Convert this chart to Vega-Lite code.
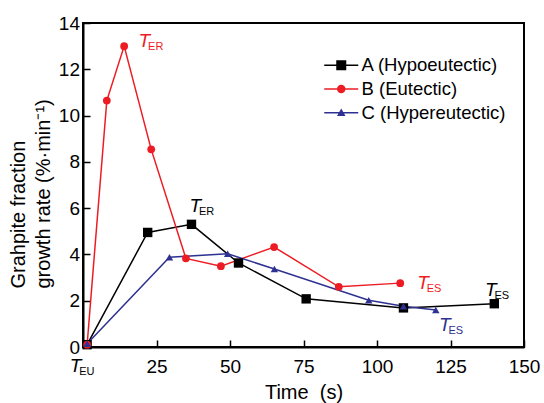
{
  "$schema": "https://vega.github.io/schema/vega-lite/v6.json",
  "width": 441,
  "height": 324,
  "autosize": {"type": "none"},
  "padding": {"left": 83, "top": 23, "right": 20, "bottom": 56},
  "background": "white",
  "config": {
    "font": "Liberation Sans",
    "view": {"stroke": "black", "strokeWidth": 2},
    "axis": {"grid": false, "domainColor": "black", "domainWidth": 2, "tickColor": "black", "tickWidth": 1.5, "labelColor": "black", "titleColor": "black", "labelFont": "Liberation Sans", "titleFont": "Liberation Sans", "titleFontWeight": "normal"},
    "legend": {"title": null, "orient": "none", "legendX": 249, "legendY": 33, "padding": 0, "labelFontSize": 18.5, "labelColor": "black", "symbolSize": 100, "labelOffset": 11, "rowPadding": 4.7, "symbolOpacity": 1, "symbolStrokeWidth": 0}
  },
  "datasets": {
    "pts": [
      {"series": "A (Hypoeutectic)", "x": 1.4, "y": 0.1},
      {"series": "A (Hypoeutectic)", "x": 22.0, "y": 4.95},
      {"series": "A (Hypoeutectic)", "x": 36.9, "y": 5.3},
      {"series": "A (Hypoeutectic)", "x": 52.9, "y": 3.63},
      {"series": "A (Hypoeutectic)", "x": 75.9, "y": 2.08},
      {"series": "A (Hypoeutectic)", "x": 109.0, "y": 1.69},
      {"series": "A (Hypoeutectic)", "x": 139.9, "y": 1.87},
      {"series": "B (Eutectic)", "x": 1.4, "y": 0.1},
      {"series": "B (Eutectic)", "x": 8.1, "y": 10.65},
      {"series": "B (Eutectic)", "x": 14.0, "y": 13.0},
      {"series": "B (Eutectic)", "x": 23.2, "y": 8.54},
      {"series": "B (Eutectic)", "x": 35.0, "y": 3.83},
      {"series": "B (Eutectic)", "x": 46.9, "y": 3.49},
      {"series": "B (Eutectic)", "x": 65.0, "y": 4.32},
      {"series": "B (Eutectic)", "x": 87.0, "y": 2.6},
      {"series": "B (Eutectic)", "x": 107.9, "y": 2.76},
      {"series": "C (Hypereutectic)", "x": 1.4, "y": 0.14},
      {"series": "C (Hypereutectic)", "x": 29.4, "y": 3.88},
      {"series": "C (Hypereutectic)", "x": 49.2, "y": 4.03},
      {"series": "C (Hypereutectic)", "x": 65.1, "y": 3.37},
      {"series": "C (Hypereutectic)", "x": 97.2, "y": 2.02},
      {"series": "C (Hypereutectic)", "x": 109.0, "y": 1.76},
      {"series": "C (Hypereutectic)", "x": 120.0, "y": 1.6}
    ],
    "ann": [
      {"series": "B (Eutectic)", "x": 18.9, "y": 12.97, "sub": "ER"},
      {"series": "A (Hypoeutectic)", "x": 36.2, "y": 5.84, "sub": "ER"},
      {"series": "B (Eutectic)", "x": 113.7, "y": 2.51, "sub": "ES"},
      {"series": "A (Hypoeutectic)", "x": 136.7, "y": 2.2, "sub": "ES"},
      {"series": "C (Hypereutectic)", "x": 121.1, "y": 0.69, "sub": "ES"},
      {"series": "A (Hypoeutectic)", "x": -4.5, "y": -1.08, "sub": "EU"}
    ]
  },
  "layer": [
    {
      "data": {"name": "pts"},
      "mark": {"type": "line", "strokeWidth": 1.5},
      "encoding": {
        "x": {"field": "x", "type": "quantitative", "scale": {"domain": [0, 150], "nice": false, "zero": false},
          "axis": {"values": [0, 25, 50, 75, 100, 125, 150], "labelExpr": "datum.value == 0 ? '' : datum.label", "tickSize": -7, "labelPadding": 17, "labelFontSize": 19, "title": "Time\u00a0 (s)", "titleFontSize": 20, "titlePadding": 6, "labelFlush": false}},
        "y": {"field": "y", "type": "quantitative", "scale": {"domain": [0, 14], "nice": false},
          "axis": {"values": [0, 2, 4, 6, 8, 10, 12, 14], "tickSize": -7, "labelPadding": 10.5, "labelFontSize": 19, "title": ["Grahpite fraction", "growth rate (%·min\u207b\u00b9)"], "titleFontSize": 20, "titleLineHeight": 25, "titlePadding": 5, "titleAlign": "left", "titleY": 265}},
        "color": {"field": "series", "type": "nominal", "scale": {"domain": ["A (Hypoeutectic)", "B (Eutectic)", "C (Hypereutectic)"], "range": ["#000000", "#ed1c24", "#2e3192"]}},
        "order": {"field": "x", "type": "quantitative"}
      }
    },
    {
      "data": {"name": "pts"},
      "mark": {"type": "point", "filled": true, "opacity": 1},
      "encoding": {
        "x": {"field": "x", "type": "quantitative"},
        "y": {"field": "y", "type": "quantitative"},
        "color": {"field": "series", "type": "nominal"},
        "shape": {"condition": [{"test": "datum.series === 'A (Hypoeutectic)'", "value": "square"}, {"test": "datum.series === 'B (Eutectic)'", "value": "circle"}], "value": "triangle-up"},
        "size": {"condition": [{"test": "datum.series === 'A (Hypoeutectic)'", "value": 88}, {"test": "datum.series === 'B (Eutectic)'", "value": 60}], "value": 55}
      }
    },
    {
      "data": {"name": "pts"},
      "transform": [{"filter": "false"}],
      "mark": {"type": "point", "filled": true, "opacity": 1},
      "encoding": {
        "x": {"field": "x", "type": "quantitative"},
        "y": {"field": "y", "type": "quantitative"},
        "color": {"field": "series", "type": "nominal"},
        "shape": {"field": "series", "type": "nominal", "scale": {"domain": ["A (Hypoeutectic)", "B (Eutectic)", "C (Hypereutectic)"], "range": ["M-3.4,-0.15H3.4V0.15H-3.4Z M-1,-1H1V1H-1Z", "M-3.4,-0.15H3.4V0.15H-3.4Z M-0.85,0A0.85,0.85 0 1,1 0.85,0A0.85,0.85 0 1,1 -0.85,0Z", "M-3.4,-0.15H3.4V0.15H-3.4Z M-0.85,0.65L0,-0.85L0.85,0.65Z"]}}
      }
    },
    {
      "data": {"name": "ann"},
      "mark": {"type": "text", "text": "T", "fontStyle": "italic", "fontSize": 19, "align": "left", "baseline": "alphabetic"},
      "encoding": {
        "x": {"field": "x", "type": "quantitative"},
        "y": {"field": "y", "type": "quantitative"},
        "color": {"field": "series", "type": "nominal"}
      }
    },
    {
      "data": {"name": "ann"},
      "mark": {"type": "text", "fontSize": 11, "align": "left", "baseline": "alphabetic", "dx": 9.5, "dy": 3},
      "encoding": {
        "x": {"field": "x", "type": "quantitative"},
        "y": {"field": "y", "type": "quantitative"},
        "text": {"field": "sub"},
        "color": {"field": "series", "type": "nominal"}
      }
    }
  ]
}
